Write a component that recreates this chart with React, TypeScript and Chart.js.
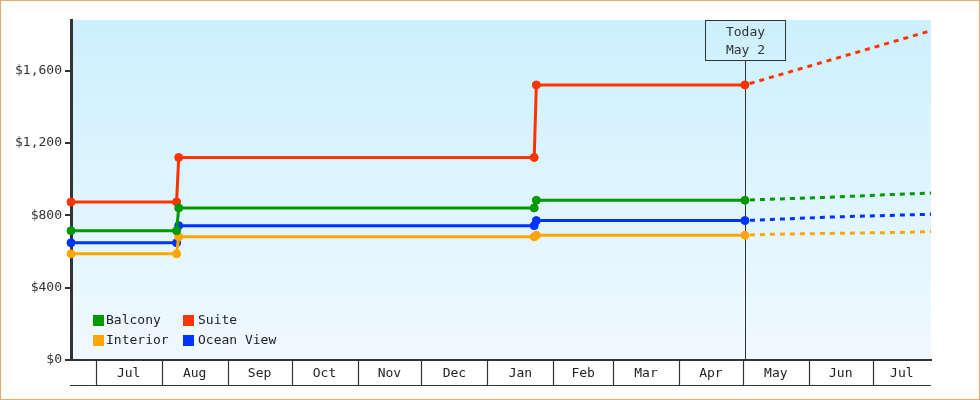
import React, { useEffect, useRef } from "react";
import { Chart, registerables } from "chart.js";

Chart.register(...registerables);

// ---------- data ----------
const DAY = 86400000;
const day = (y: number, m: number, d: number, frac = 0) => Date.UTC(y, m - 1, d) / DAY + frac;

const seriesNames = ["Balcony", "Interior", "Suite", "Ocean View"];
const seriesColors = ["#009900", "#ffa500", "#ff3300", "#0033ff"];

const xMin = day(2024, 6, 19, 0.4);
const xMax = day(2025, 7, 28, 0.4);
const todayDate = day(2025, 5, 2);
const todayLabel = ["Today", "May 2"];

const historyDates = [xMin, day(2024, 8, 8), day(2024, 8, 9), day(2025, 1, 23), day(2025, 1, 24), todayDate];
const balconyHistory = [715, 715, 841, 841, 883, 883];
const interiorHistory = [587, 587, 681, 681, 690, 690];
const suiteHistory = [874, 874, 1120, 1120, 1521, 1521];
const oceanViewHistory = [648, 648, 743, 743, 771, 771];

const balconyForecastDates = [todayDate, day(2025, 5, 7), day(2025, 6, 9), day(2025, 7, 12), day(2025, 7, 22), xMax];
const balconyForecast = [883, 886, 899, 916, 920, 924];
const interiorForecastDates = [todayDate, day(2025, 5, 13), day(2025, 7, 17), xMax];
const interiorForecast = [690, 695, 706, 710];
const suiteForecastDates = [todayDate, xMax];
const suiteForecast = [1521, 1821];
const oceanViewForecastDates = [todayDate, day(2025, 6, 10), xMax];
const oceanViewForecast = [771, 790, 806];

const yTicks = [0, 400, 800, 1200, 1600];
const yMax = 1880;

const monthLabels = ["Jul", "Aug", "Sep", "Oct", "Nov", "Dec", "Jan", "Feb", "Mar", "Apr", "May", "Jun", "Jul"];
const monthStarts = [
  day(2024, 7, 1), day(2024, 8, 1), day(2024, 9, 1), day(2024, 10, 1), day(2024, 11, 1), day(2024, 12, 1),
  day(2025, 1, 1), day(2025, 2, 1), day(2025, 3, 1), day(2025, 4, 1), day(2025, 5, 1), day(2025, 6, 1),
  day(2025, 7, 1),
];

// ---------- styling ----------
const FONT = "13px 'DejaVu Sans Mono', monospace";
const INK = "#333333";

const toPoints = (xs: number[], ys: number[]) => xs.map((x, i) => ({ x, y: ys[i] }));

const bgPlugin = {
  id: "bgGradient",
  beforeDraw(chart: any) {
    const { ctx, chartArea: a } = chart;
    const g = ctx.createLinearGradient(0, a.top, 0, a.bottom);
    g.addColorStop(0, "#ccf0fd");
    g.addColorStop(1, "#f0f9ff");
    ctx.save();
    ctx.fillStyle = g;
    ctx.fillRect(a.left, a.top, a.right - a.left, a.bottom - a.top);
    ctx.restore();
  },
};

const todayPlugin = {
  id: "todayMarker",
  beforeDatasetsDraw(chart: any) {
    const { ctx, chartArea: a, scales } = chart;
    const px = Math.round(scales.x.getPixelForValue(todayDate)) + 0.5;
    const w = 80, h = 40;
    ctx.save();
    ctx.strokeStyle = INK;
    ctx.lineWidth = 1;
    ctx.strokeRect(px - w / 2, a.top + 0.5, w, h);
    ctx.beginPath();
    ctx.moveTo(px, a.top + h + 0.5);
    ctx.lineTo(px, a.bottom);
    ctx.stroke();
    ctx.fillStyle = INK;
    ctx.font = FONT;
    ctx.textAlign = "center";
    ctx.textBaseline = "middle";
    ctx.fillText(todayLabel[0], px, a.top + 12.5);
    ctx.fillText(todayLabel[1], px, a.top + 30.5);
    ctx.restore();
  },
};

const monthBandPlugin = {
  id: "monthBand",
  afterDraw(chart: any) {
    const { ctx, chartArea: a, scales } = chart;
    const xs = scales.x;
    const top = a.bottom;
    const bottom = a.bottom + 25;
    ctx.save();
    ctx.strokeStyle = INK;
    ctx.lineWidth = 1.2;
    ctx.beginPath();
    monthStarts.forEach((m) => {
      const px = Math.round(xs.getPixelForValue(m)) + 0.5;
      ctx.moveTo(px, top);
      ctx.lineTo(px, bottom);
    });
    ctx.moveTo(a.left - 1, bottom + 0.5);
    ctx.lineTo(a.right, bottom + 0.5);
    ctx.stroke();
    ctx.fillStyle = "#222";
    ctx.font = FONT;
    ctx.textAlign = "center";
    ctx.textBaseline = "middle";
    monthStarts.forEach((m, i) => {
      const s = xs.getPixelForValue(m);
      const next = i + 1 < monthStarts.length ? xs.getPixelForValue(monthStarts[i + 1]) : a.right;
      const e = Math.min(next, a.right);
      ctx.fillText(monthLabels[i], (s + e) / 2, top + 13.5);
    });
    ctx.restore();
  },
};

const legendPlugin = {
  id: "cornerLegend",
  afterDatasetsDraw(chart: any) {
    const { ctx, chartArea: a } = chart;
    ctx.save();
    ctx.font = FONT;
    ctx.textBaseline = "middle";
    ctx.textAlign = "left";
    seriesNames.forEach((name, i) => {
      const col = Math.floor(i / 2);
      const row = i % 2;
      const sx = a.left + 22 + col * 90;
      const sy = a.bottom - 45 + row * 20;
      ctx.fillStyle = seriesColors[i];
      ctx.fillRect(sx, sy, 11, 11);
      ctx.fillStyle = "#222";
      ctx.fillText(name, sx + 13 + col * 2, sy + 6);
    });
    ctx.restore();
  },
};

export default function App() {
  const canvasRef = useRef<HTMLCanvasElement | null>(null);

  useEffect(() => {
    if (!canvasRef.current) return;
    const history = [balconyHistory, interiorHistory, suiteHistory, oceanViewHistory];
    const fDates = [balconyForecastDates, interiorForecastDates, suiteForecastDates, oceanViewForecastDates];
    const fVals = [balconyForecast, interiorForecast, suiteForecast, oceanViewForecast];

    const solid = seriesNames.map((name, i) => ({
      label: name,
      data: toPoints(historyDates, history[i]),
      borderColor: seriesColors[i],
      backgroundColor: seriesColors[i],
      pointBackgroundColor: seriesColors[i],
      pointBorderColor: seriesColors[i],
      borderWidth: 3,
      pointRadius: 4,
      pointBorderWidth: 1,
      tension: 0,
      clip: false as any,
    }));
    const dashed = seriesNames.map((name, i) => ({
      label: name + " forecast",
      data: toPoints(fDates[i], fVals[i]),
      borderColor: seriesColors[i],
      backgroundColor: seriesColors[i],
      borderWidth: 3,
      borderDash: [5, 5],
      borderDashOffset: -5,
      pointRadius: 0,
      tension: 0,
      clip: false as any,
    }));

    const chart = new Chart(canvasRef.current, {
      type: "line",
      data: { datasets: [...solid, ...dashed] as any },
      options: {
        animation: false,
        responsive: false,
        maintainAspectRatio: false,
        devicePixelRatio: 1,
        layout: { padding: { top: 20, right: 49, left: 0, bottom: 0 } },
        plugins: {
          legend: { display: false },
          tooltip: { enabled: false },
        },
        scales: {
          x: {
            type: "linear",
            min: xMin,
            max: xMax,
            grid: { display: false },
            ticks: { display: false },
            border: { display: true, color: INK, width: 2 },
            afterFit: (s: any) => {
              s.height = 40;
            },
          },
          y: {
            type: "linear",
            min: 0,
            max: yMax,
            afterBuildTicks: (s: any) => {
              s.ticks = yTicks.map((v) => ({ value: v }));
            },
            afterFit: (s: any) => {
              s.width = 71;
            },
            ticks: {
              color: INK,
              font: { family: "'DejaVu Sans Mono', monospace", size: 13 },
              padding: 3,
              callback: (v: any) => "$" + Number(v).toLocaleString("en-US"),
            },
            grid: {
              drawOnChartArea: false,
              drawTicks: true,
              tickLength: 6,
              lineWidth: 2,
              color: INK,
            },
            border: { display: true, color: INK, width: 3 },
          },
        },
      },
      plugins: [bgPlugin, todayPlugin, monthBandPlugin, legendPlugin],
    });
    return () => chart.destroy();
  }, []);

  return (
    <div style={{ position: "absolute", left: 0, top: 0, width: 980, height: 400, background: "#fff" }}>
      <canvas ref={canvasRef} width={980} height={400} style={{ display: "block", width: 980, height: 400 }} />
      <div
        style={{
          position: "absolute",
          left: 0,
          top: 0,
          width: 980,
          height: 400,
          boxSizing: "border-box",
          border: "1px solid #e8aa6a",
          pointerEvents: "none",
        }}
      />
    </div>
  );
}
